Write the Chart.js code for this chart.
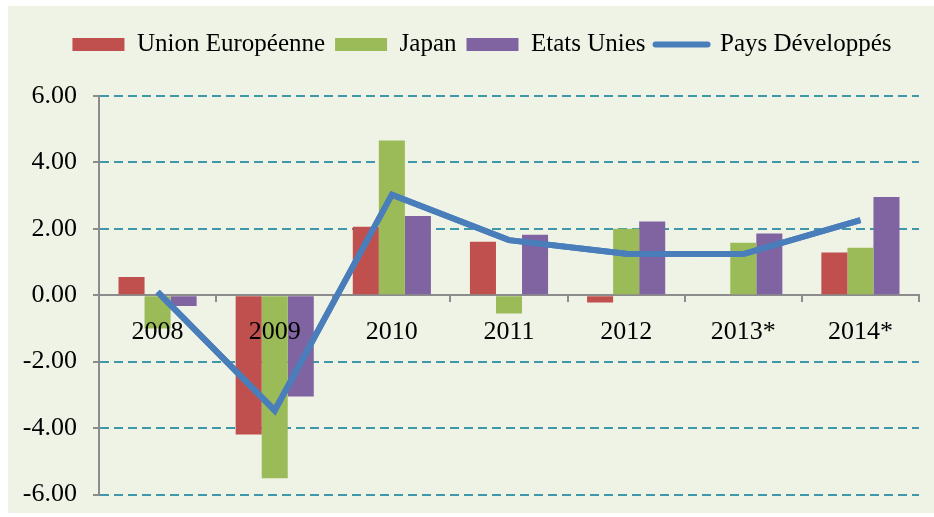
<!DOCTYPE html>
<html>
<head>
<meta charset="utf-8">
<script src="https://cdn.jsdelivr.net/npm/chart.js@4/dist/chart.umd.min.js"></script>
<style>
  html, body { margin: 0; padding: 0; background: #fff; }
  #wrap { width: 934px; height: 517px; }
</style>
</head>
<body>
<div id="wrap"><canvas id="myChart" width="934" height="517"></canvas></div>
<script>
// data
const years = ['2008', '2009', '2010', '2011', '2012', '2013*', '2014*'];
const unionEuropeenne = [0.55, -4.19, 2.06, 1.61, -0.22, null, 1.29];
const japan = [-1.0, -5.51, 4.66, -0.55, 2.0, 1.58, 1.43];
const etatsUnies = [-0.32, -3.05, 2.39, 1.82, 2.22, 1.86, 2.96];
const paysDeveloppes = [0.1, -3.47, 3.03, 1.66, 1.25, 1.24, 2.26];
const yTicks = [-6, -4, -2, 0, 2, 4, 6];

const serif = "'Liberation Serif', 'DejaVu Serif', serif";

// light green panel, extra room under the legend, legend nudged right,
// and the line drawn again over the year labels
const panel = {
    id: 'panel',
    beforeUpdate(chart) {
        const lg = chart.legend;
        if (lg && !lg._patched) {
            const fit = lg.fit;
            lg.fit = function () { fit.call(this); this.height += 29; };
            lg._patched = true;
        }
    },
    afterLayout(chart) {
        if (chart.legend) chart.legend.left += 45;
    },
    beforeDraw(chart) {
        const c = chart.ctx;
        c.save();
        c.fillStyle = '#EFF3E6';
        c.fillRect(8, 6, chart.width - 8, chart.height - 10);
        c.restore();
    },
    afterDraw(chart) {
        chart.getDatasetMeta(3).controller.draw();
    }
};

const ctx = document.getElementById('myChart').getContext('2d');
const myChart = new Chart(ctx, {
    type: 'bar',
    data: {
        labels: years,
        datasets: [
            { label: 'Union Européenne', data: unionEuropeenne, backgroundColor: '#C0504D', order: 1 },
            { label: 'Japan', data: japan, backgroundColor: '#9BBB59', order: 1 },
            { label: 'Etats Unies', data: etatsUnies, backgroundColor: '#8064A2', order: 1 },
            {
                type: 'line',
                label: 'Pays Développés',
                data: paysDeveloppes,
                borderColor: '#4A7EBB',
                backgroundColor: '#4A7EBB',
                borderWidth: 6,
                pointRadius: 0,
                tension: 0,
                order: 0
            }
        ]
    },
    options: {
        responsive: false,
        animation: false,
        categoryPercentage: 0.667,
        barPercentage: 1,
        layout: { padding: { left: 0, right: 15, top: 22, bottom: 22 } },
        plugins: {
            tooltip: { enabled: false },
            legend: {
                position: 'top',
                labels: {
                    font: { family: serif, size: 25 },
                    color: '#000',
                    usePointStyle: true,
                    pointStyleWidth: 52,
                    boxHeight: 13,
                    padding: 10,
                    sort: (a, b) => a.datasetIndex - b.datasetIndex,
                    generateLabels(chart) {
                        const items = Chart.defaults.plugins.legend.labels.generateLabels(chart);
                        items.forEach(it => {
                            const ds = chart.data.datasets[it.datasetIndex];
                            if (ds.type === 'line') {
                                it.pointStyle = 'line';
                                it.strokeStyle = ds.borderColor;
                                it.lineWidth = 6;
                                it.lineCap = 'round';
                            } else {
                                it.pointStyle = 'rect';
                                it.fillStyle = ds.backgroundColor;
                                it.lineWidth = 0;
                            }
                        });
                        return items;
                    }
                }
            }
        },
        scales: {
            x: {
                position: { y: 0 },
                grid: {
                    drawOnChartArea: false,
                    tickLength: 6,
                    tickColor: '#8C8C8C',
                    lineWidth: 2
                },
                border: { color: '#8C8C8C', width: 2 },
                ticks: {
                    z: 1,
                    font: { family: serif, size: 26 },
                    color: '#000',
                    padding: 15
                }
            },
            y: {
                min: -6,
                max: 6,
                afterFit(scale) { scale.width = 99; },
                afterBuildTicks(scale) { scale.ticks = yTicks.map(v => ({ value: v })); },
                grid: {
                    color: c => (c.tick && c.tick.value === 0) ? 'rgba(0,0,0,0)' : '#3F97AA',
                    lineWidth: 2,
                    tickLength: 6,
                    tickColor: '#8C8C8C',
                    tickWidth: 2,
                    tickBorderDash: []
                },
                border: { color: '#8C8C8C', width: 2, dash: [9, 5] },
                ticks: {
                    font: { family: serif, size: 26, lineHeight: 0.5 },
                    color: '#000',
                    padding: 16,
                    callback: v => v.toFixed(2)
                }
            }
        }
    },
    plugins: [panel]
});
</script>
</body>
</html>
